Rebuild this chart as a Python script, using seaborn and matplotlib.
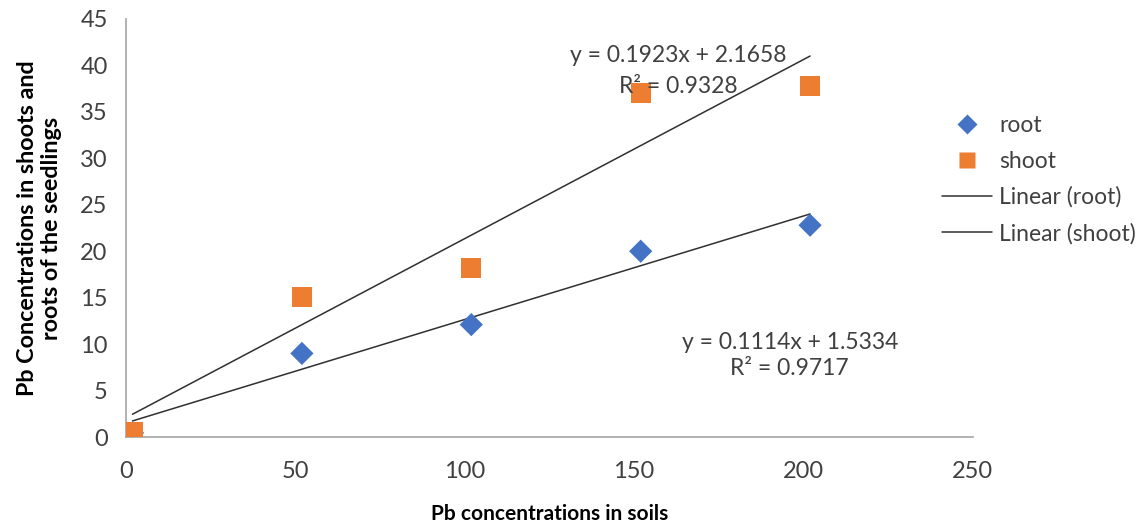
import matplotlib
matplotlib.use("Agg")
import matplotlib.pyplot as plt
from matplotlib.lines import Line2D
import seaborn as sns
import numpy as np
import pandas as pd

# Data
soil_pb = [2, 52, 102, 152, 202]
root = [0.45, 9.0, 12.1, 20.0, 22.8]
shoot = [0.55, 15.1, 18.2, 37.0, 37.8]
x_ticks = [0, 50, 100, 150, 200, 250]
y_ticks = [0, 5, 10, 15, 20, 25, 30, 35, 40, 45]
shoot_eq = ["y = 0.1923x + 2.1658", "R² = 0.9328"]
root_eq = ["y = 0.1114x + 1.5334", "R² = 0.9717"]

df = pd.DataFrame({"soil": soil_pb, "root": root, "shoot": shoot})

sns.set_theme(style="white")
plt.rcParams["font.family"] = ["Lato", "DejaVu Sans"]

BLUE = "#4472C4"
ORANGE = "#ED7D31"
GRAY = "#ABABAB"
TXT = "#404040"

fig = plt.figure(figsize=(11.43, 5.23), dpi=100)
ax = fig.add_axes([0.110, 0.1644, 0.741, 0.7993])

sns.regplot(data=df, x="soil", y="root", scatter=False, ci=None, ax=ax,
            color="#303030", line_kws={"lw": 1.1, "zorder": 2})
sns.regplot(data=df, x="soil", y="shoot", scatter=False, ci=None, ax=ax,
            color="#303030", line_kws={"lw": 1.1, "zorder": 2})
sns.scatterplot(data=df, x="soil", y="root", marker="D", s=140, color=BLUE,
                edgecolor="none", ax=ax, zorder=3)
sns.scatterplot(data=df, x="soil", y="shoot", marker="s", s=210, color=ORANGE,
                edgecolor="none", ax=ax, zorder=4)

ax.set_xlim(0, 250)
ax.set_ylim(0, 45)
ax.set_xticks(x_ticks)
ax.set_yticks(y_ticks)
for s in ["top", "right"]:
    ax.spines[s].set_visible(False)
for s in ["left", "bottom"]:
    ax.spines[s].set_color(GRAY)
    ax.spines[s].set_linewidth(1.3)
ax.tick_params(axis="both", direction="out", length=8, width=1.3, color=GRAY,
               labelsize=17, labelcolor=TXT, pad=5)
ax.tick_params(axis="x", pad=9)
ax.set_xlabel("Pb concentrations in soils", fontsize=15, fontweight="bold",
              color="#000000", labelpad=16)
ax.set_ylabel("Pb Concentrations in shoots and\nroots of the seedlings", fontsize=16.8,
              fontweight="bold", color="#000000", labelpad=13, linespacing=1.2)

ax.text(163, 41.1, shoot_eq[0], ha="center", va="center", fontsize=16.5, color=TXT, zorder=5)
ax.text(163, 37.7, shoot_eq[1], ha="center", va="center", fontsize=16.5, color=TXT, zorder=5)
ax.text(196, 10.2, root_eq[0], ha="center", va="center", fontsize=16.5, color=TXT, zorder=5)
ax.text(196, 7.4, root_eq[1], ha="center", va="center", fontsize=16.5, color=TXT, zorder=5)

handles = [
    Line2D([], [], marker="D", ls="none", color=BLUE, markersize=10, markeredgecolor="none"),
    Line2D([], [], marker="s", ls="none", color=ORANGE, markersize=12, markeredgecolor="none"),
    Line2D([], [], color="#303030", lw=1.1),
    Line2D([], [], color="#303030", lw=1.1),
]
labels = ["root", "shoot", "Linear (root)", "Linear (shoot)"]
fig.legend(handles, labels, loc="upper left", bbox_to_anchor=(0.806, 0.82),
           frameon=False, fontsize=16.5, labelcolor=TXT, handlelength=2.2,
           handletextpad=0.3, labelspacing=0.65)

fig.savefig("out.png", dpi=100)
